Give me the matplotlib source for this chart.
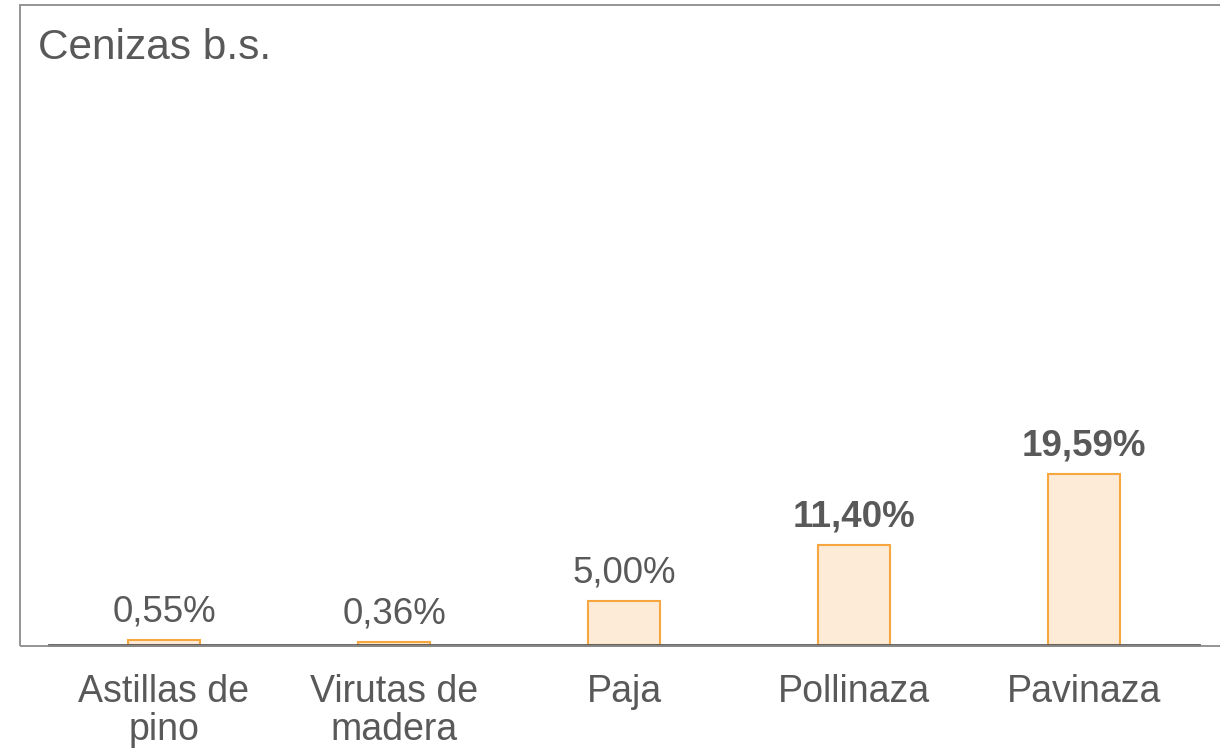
import matplotlib.pyplot as plt
from matplotlib.patches import Rectangle

# datos de cenizas en base seca (%)
categorias = ["Astillas de\npino", "Virutas de\nmadera", "Paja", "Pollinaza", "Pavinaza"]
valores = [0.55, 0.36, 5.00, 11.40, 19.59]
etiquetas = ["0,55%", "0,36%", "5,00%", "11,40%", "19,59%"]
negrita = [False, False, False, True, True]

gris = "#595959"
plt.rcParams['font.family'] = ['Liberation Sans', 'DejaVu Sans']

W, H = 1220, 753
fig = plt.figure(figsize=(12.2, 7.53), dpi=100)

# marco exterior
fig.patches.append(Rectangle((20 / W, (H - 646) / H), 1210 / W, 641 / H,
                             transform=fig.transFigure, fill=False,
                             edgecolor="#8c8c8c", linewidth=1.3))

ax = fig.add_axes([49 / W, (H - 645) / H, 1150 / W, 640 / H])
ax.set_facecolor("none")
x = range(len(categorias))
ax.bar(x, valores, width=0.315, color="#fdebd7", edgecolor="#f7a740", linewidth=1.5, zorder=2)

for i, v in enumerate(valores):
    ax.annotate(etiquetas[i], (i, v), xytext=(0, 13.5), textcoords="offset points",
                ha="center", va="baseline", fontsize=26.5, color=gris,
                fontweight="bold" if negrita[i] else "normal")

ax.set_xlim(-0.5, 4.5)
ax.set_ylim(0, 640 / 8.73)
ax.set_xticks(list(x))
ax.set_xticklabels(categorias, fontsize=27, color=gris, linespacing=1.07)
ax.tick_params(axis="x", length=0, pad=21)
ax.set_yticks([])
for s in ["top", "right", "left"]:
    ax.spines[s].set_visible(False)
ax.spines["bottom"].set_color(gris)
ax.spines["bottom"].set_linewidth(2)
ax.spines["bottom"].set_zorder(3)

fig.text(38 / W, (H - 59) / H, "Cenizas b.s.", fontsize=30.5, color=gris,
         ha="left", va="baseline")

fig.savefig("out.png", dpi=100)
